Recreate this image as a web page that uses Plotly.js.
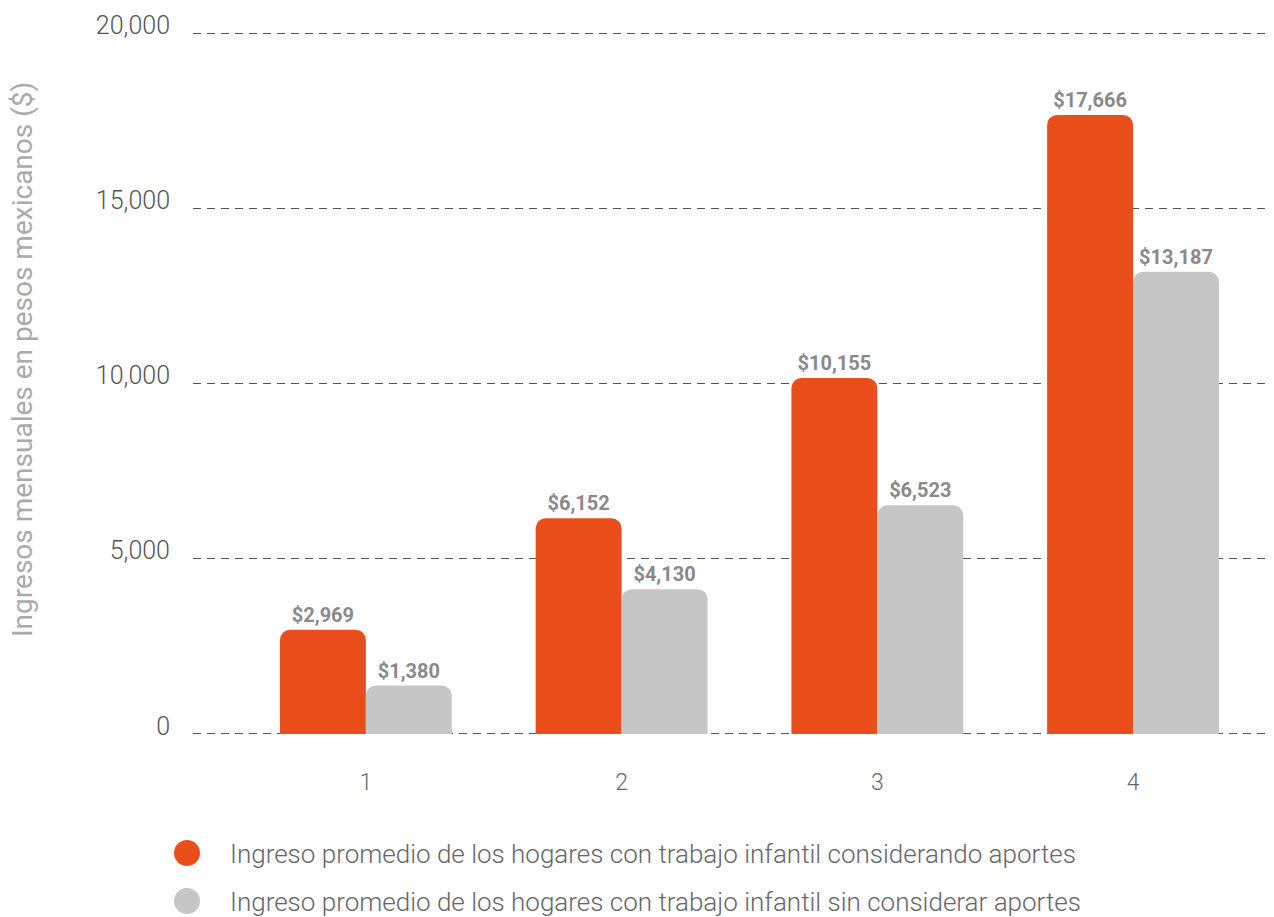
<!DOCTYPE html>
<html>
<head>
<meta charset="utf-8">
<script src="https://cdn.plot.ly/plotly-3.0.1.min.js"></script>
<style>html,body{margin:0;padding:0;background:#fff;}#chart{width:1274px;height:917px;}</style>
</head>
<body>
<div id="chart"></div>
<script>
const categories = ['1', '2', '3', '4'];
const conAportes = [2969, 6152, 10155, 17666];
const sinAportes = [1380, 4130, 6523, 13187];
const seriesNames = [
  'Ingreso promedio de los hogares con trabajo infantil considerando aportes',
  'Ingreso promedio de los hogares con trabajo infantil sin considerar aportes'
];
const yTickVals = [0, 5000, 10000, 15000, 20000];
const yTickText = ['0', '5,000', '10,000', '15,000', '20,000'];
const yTitle = 'Ingresos mensuales en pesos mexicanos ($)';

const colors = ['#E94E1B', '#C6C6C6'];
const fontFam = 'Roboto, "Open Sans", sans-serif';

const labelFont = {family: fontFam, size: 20, color: '#8a8a8a', weight: 700};

const traces = [conAportes, sinAportes].map((vals, i) => ({
  type: 'bar', x: categories, y: vals, name: seriesNames[i],
  marker: {color: colors[i], cornerradius: 10},
  texttemplate: '$%{y:,}', textposition: 'outside', cliponaxis: false,
  textfont: labelFont, showlegend: false, hoverinfo: 'skip'
}));

const W = 1274, H = 917;
const mL = 193, mR = 9, mT = 31, mB = 181;
const legendY = [853, 901];

const layout = {
  width: W, height: H,
  margin: {l: mL, r: mR, t: mT, b: mB, autoexpand: false},
  paper_bgcolor: '#fff', plot_bgcolor: '#fff',
  font: {family: fontFam, color: '#666'},
  barmode: 'group', bargap: 0.328, bargroupgap: 0,
  showlegend: false,
  xaxis: {
    type: 'category',
    range: [-0.676, 3.516],
    showgrid: false, zeroline: false, showline: false,
    ticks: '', tickfont: {family: fontFam, size: 23, color: '#666', weight: 300},
    ticklabelstandoff: 30, automargin: false
  },
  yaxis: {
    range: [-60, 20060],
    tickvals: yTickVals, ticktext: yTickText,
    showgrid: true, gridcolor: '#555', griddash: '8px,6px', gridwidth: 1,
    zeroline: false, showline: false, ticks: '',
    tickfont: {family: fontFam, size: 25, color: '#555', weight: 300},
    ticklabelstandoff: 22, ticklabelshift: -8,
    automargin: false
  },
  shapes: [],
  annotations: []
};

const plotW = W - mL - mR, plotH = H - mT - mB;
const px2x = px => (px - mL) / plotW;
const py2y = py => (H - mB - py) / plotH;
legendY.forEach((py, i) => {
  layout.shapes.push({
    type: 'circle', xref: 'paper', yref: 'paper', layer: 'above',
    x0: px2x(174), x1: px2x(200), y0: py2y(py + 13), y1: py2y(py - 13),
    fillcolor: colors[i], line: {width: 0}
  });
  layout.annotations.push({
    xref: 'paper', yref: 'paper', x: px2x(228), y: py2y(py + 1),
    xanchor: 'left', yanchor: 'middle', showarrow: false,
    text: seriesNames[i],
    font: {family: fontFam, size: 26, color: '#666', weight: 300}
  });
});
layout.annotations.push({
  xref: 'paper', yref: 'paper', x: px2x(22), y: py2y(360),
  xanchor: 'center', yanchor: 'middle', showarrow: false, textangle: -90,
  text: yTitle,
  font: {family: fontFam, size: 28, color: '#aaa', weight: 400}
});

Plotly.newPlot('chart', traces, layout, {displayModeBar: false, staticPlot: true});
</script>
</body>
</html>
